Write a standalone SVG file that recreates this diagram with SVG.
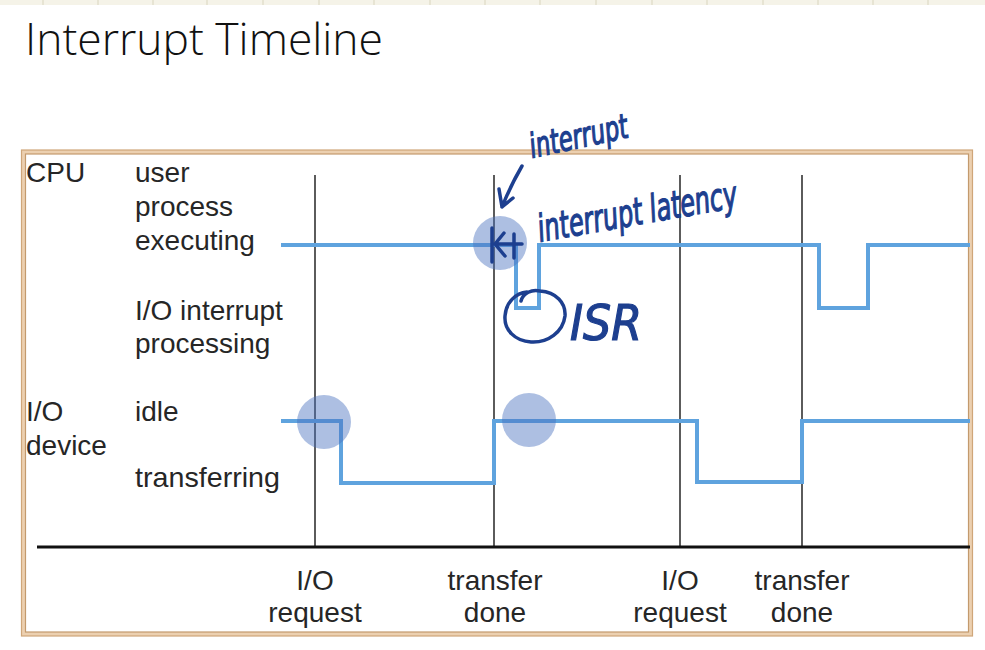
<svg xmlns="http://www.w3.org/2000/svg" width="985" height="650" viewBox="0 0 985 650">
<style>
.lbl{font-family:"Liberation Sans",Arial,sans-serif;font-size:28px;fill:#262626}
.mid{text-anchor:middle}
.vl{stroke:#333;stroke-width:1.6}
.sig{fill:none;stroke:#5fa3de;stroke-width:4}
.dot{fill:#4a72bf;fill-opacity:0.45}
.ink{fill:none;stroke:#1d3f8f;stroke-width:3.5;stroke-linecap:round;stroke-linejoin:round}
.hand{font-family:"DejaVu Sans Condensed","DejaVu Sans",sans-serif;font-style:oblique;fill:#1d3f8f;stroke:#1d3f8f;stroke-width:1.2}
</style>
<rect x="0" y="0" width="985" height="650" fill="#ffffff"/>
<g id="topstrip">
<rect x="0" y="0" width="985" height="5" fill="#f5f3e8"/>
<path d="M43,0V5M98,0V5M153,0V5M207,0V5M263,0V5M319,0V5M374,0V5M430,0V5M485,0V5M540,0V5M596,0V5M652,0V5M707,0V5M763,0V5M818,0V5M873,0V5M928,0V5" stroke="#e2dfcc" stroke-width="1.5"/>
</g>
<text id="title" x="25" y="55" font-family="'Open Sans','Noto Sans',sans-serif" font-size="44" font-weight="300" fill="#111" textLength="358" lengthAdjust="spacingAndGlyphs">Interrupt Timeline</text>
<g id="frame">
<rect x="23.5" y="152" width="947" height="482" fill="none" stroke="#ecd0b0" stroke-width="4"/>
<rect x="21.5" y="150" width="951" height="486" fill="none" stroke="#cfa679" stroke-width="1.2"/>
<rect x="25.5" y="154" width="943" height="478" fill="none" stroke="#c39a6d" stroke-width="1.2"/>
</g>
<g id="labels">
<text class="lbl" x="26" y="182">CPU</text>
<text class="lbl" x="135" y="182">user</text>
<text class="lbl" x="135" y="216">process</text>
<text class="lbl" x="135" y="250">executing</text>
<text class="lbl" x="135" y="320">I/O interrupt</text>
<text class="lbl" x="135" y="353">processing</text>
<text class="lbl" x="26" y="421">I/O</text>
<text class="lbl" x="26" y="455">device</text>
<text class="lbl" x="135" y="421">idle</text>
<text class="lbl" x="135" y="487" textLength="145" lengthAdjust="spacingAndGlyphs">transferring</text>
</g>
<g id="connectors">
<line class="vl" x1="315" y1="175" x2="315" y2="547"/>
<line class="vl" x1="494" y1="175" x2="494" y2="547"/>
<line class="vl" x1="680" y1="175" x2="680" y2="547"/>
<line class="vl" x1="802" y1="175" x2="802" y2="547"/>
<line x1="37" y1="547" x2="970" y2="547" stroke="#111" stroke-width="3"/>
<path id="cpu-signal" class="sig" d="M281,245H516V308H539V245H819V308H868V245H970"/>
<path id="io-signal" class="sig" d="M281,421H341V483H494V421H697V482H802V421H970"/>
</g>
<g id="events">
<text class="lbl mid" x="315" y="590">I/O</text>
<text class="lbl mid" x="315" y="622">request</text>
<text class="lbl mid" x="495" y="590">transfer</text>
<text class="lbl mid" x="495" y="622">done</text>
<text class="lbl mid" x="680" y="590">I/O</text>
<text class="lbl mid" x="680" y="622">request</text>
<text class="lbl mid" x="802" y="590">transfer</text>
<text class="lbl mid" x="802" y="622">done</text>
</g>
<g id="highlights">
<circle class="dot" cx="500" cy="243" r="27"/>
<circle class="dot" cx="324" cy="422" r="27"/>
<circle class="dot" cx="529" cy="420" r="27"/>
</g>
<g id="annotations">
<text class="hand" x="532" y="158" font-size="34" textLength="100" lengthAdjust="spacingAndGlyphs" transform="rotate(-12 532 158)">interrupt</text>
<path class="ink" d="M522,166C515,178 508,192 502,207M499,189L502,207L513,198"/>
<path class="ink" d="M492,228V262M504,233L495,244L505,256M495,244H522M514,234V258"/>
<text class="hand" x="540" y="242" font-size="38" textLength="202" lengthAdjust="spacingAndGlyphs" transform="rotate(-10 540 242)">interrupt  latency</text>
<path class="ink" d="M521,301C523,293 532,289 540,291C556,292 566,303 565,316C563,332 548,343 531,342C515,341 504,330 505,316C506,302 516,293 527,292"/>
<text class="hand" x="570" y="340" font-size="50" font-style="normal" textLength="72" lengthAdjust="spacingAndGlyphs">ISR</text>
</g>
</svg>
